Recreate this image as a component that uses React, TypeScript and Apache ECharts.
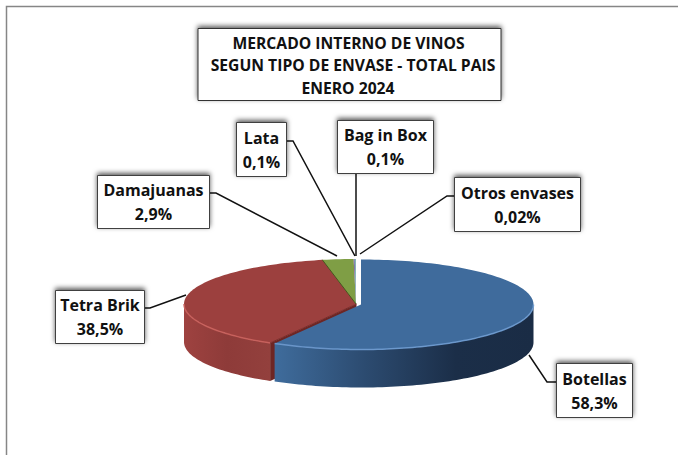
import React, { useEffect, useRef } from "react";
import * as echarts from "echarts";

const categories = ["Botellas", "Tetra Brik", "Damajuanas", "Lata", "Bag in Box", "Otros envases"];
const shares = [58.3, 38.5, 2.9, 0.1, 0.1, 0.02];
const shareLabels = ["58,3%", "38,5%", "2,9%", "0,1%", "0,1%", "0,02%"];
const titleLines = ["MERCADO INTERNO DE VINOS", "SEGUN TIPO DE ENVASE - TOTAL PAIS", "ENERO 2024"];

const FONT = "'Open Sans', sans-serif";
const CX = 356.5, CY = 304, RX = 172.5, RY = 45, DEPTH = 38;
const topColors = ["#3F6B9C", "#9C403E", "#7F9E45", "#7D60A0", "#4BACC6", "#F79646"];
const rimColors = ["#6E9BD0", "#C9605C", "#A0C060", "#9A80BC", "#70C8E0", "#FFB070"];
const edgeColors = ["#2C4D73", "#7A2C2A", "#46591F", "#574070", "#2F7A8E", "#B06A2C"];
const offsets = [[4.5, 0.5], [0, 0], [-0.5, 0], [-0.5, 0], [-0.5, 0], [-0.5, 0]];
const boxes = [
  { x: 556, y: 363, w: 76, h: 54, line: [[556, 382], [547, 382], [529, 355]] },
  { x: 55, y: 290, w: 89, h: 53, line: [[144, 308], [150, 308], [186, 295]] },
  { x: 97, y: 175, w: 112, h: 53, line: [[209, 193], [216, 193], [337, 256]] },
  { x: 236, y: 122, w: 50, h: 54, line: [[286, 141], [293, 141], [355, 256]] },
  { x: 337, y: 120, w: 96, h: 53, line: [[356, 173], [356, 256]] },
  { x: 454, y: 177, w: 126, h: 54, line: [[454, 196], [447, 196], [360, 254]] },
];

const total = shares.reduce((a, b) => a + b, 0);
const rad = (d: number) => (d * Math.PI) / 180;

function pt(a: number, dx: number, dy: number, down = 0): number[] {
  return [CX + dx + RX * Math.sin(rad(a)), CY + dy + down - RY * Math.cos(rad(a))];
}
function arc(a0: number, a1: number, dx: number, dy: number, down = 0): number[][] {
  const n = Math.max(2, Math.ceil(Math.abs(a1 - a0) / 1.5));
  const out: number[][] = [];
  for (let i = 0; i <= n; i++) out.push(pt(a0 + ((a1 - a0) * i) / n, dx, dy, down));
  return out;
}

function renderItem(params: any, api: any) {
  const i = params.dataIndex;
  let start = 0;
  for (let k = 0; k < i; k++) start += (shares[k] / total) * 360;
  const end = start + (api.value(0) / total) * 360;
  const [dx, dy] = offsets[i];
  const apex = [CX + dx, CY + dy];
  const children: any[] = [];
  const wallStart = Math.max(start, 90);
  const wallEnd = Math.min(end, 270);
  if (wallEnd > wallStart) {
    const wall = [...arc(wallStart, wallEnd, dx, dy), ...arc(wallEnd, wallStart, dx, dy, DEPTH)];
    const fill =
      i === 0
        ? new echarts.graphic.LinearGradient(1, 0, 0, 0, [
            { offset: 0, color: "#1A2C45" },
            { offset: 0.3, color: "#1B2E48" },
            { offset: 0.65, color: "#2C4B70" },
            { offset: 1, color: "#3F6C9C" },
          ])
        : new echarts.graphic.LinearGradient(0, 0, 1, 0, [
            { offset: 0, color: "#9E4240" },
            { offset: 0.5, color: "#8E3B39" },
            { offset: 1, color: "#93403D" },
          ]);
    children.push({ type: "polygon", z2: 2 + (i === 0 ? 10 : 0), shape: { points: wall }, style: { fill } });
  }
  if (i === 1) {
    const rim = pt(start, dx, dy);
    children.push({
      type: "polygon",
      z2: 3,
      shape: { points: [rim, apex, [apex[0], apex[1] + DEPTH], [rim[0], rim[1] + DEPTH]] },
      style: { fill: "#6E2624" },
    });
  }
  const top = [apex, ...arc(start, end, dx, dy)];
  children.push({ type: "polygon", z2: 13, shape: { points: top }, style: { fill: topColors[i] } });
  if (wallEnd > wallStart) {
    children.push({
      type: "polyline",
      z2: 14,
      shape: { points: arc(wallStart, wallEnd, dx, dy) },
      style: { stroke: rimColors[i], lineWidth: 1.5, fill: "none", opacity: 0.9 },
    });
  }
  if (i === 1 || i === 2) {
    const p = pt(start, dx, dy);
    children.push({
      type: "line",
      z2: 14,
      shape: { x1: apex[0], y1: apex[1], x2: p[0], y2: p[1] },
      style: { stroke: edgeColors[i], lineWidth: 1 },
    });
  }
  const b = boxes[i];
  children.push({
    type: "polyline",
    z2: 20,
    shape: { points: b.line },
    style: { stroke: "#111111", lineWidth: 1.5, fill: "none" },
  });
  children.push({
    type: "rect",
    z2: 21,
    shape: { x: b.x + 0.5, y: b.y + 0.5, width: b.w, height: b.h },
    style: {
      fill: "#FFFFFF",
      stroke: "#404040",
      lineWidth: 1,
      shadowBlur: 5,
      shadowColor: "rgba(0,0,0,0.65)",
      shadowOffsetX: 0,
      shadowOffsetY: -2,
    },
  });
  children.push({
    type: "text",
    z2: 22,
    style: {
      text: categories[i] + "\n" + shareLabels[i],
      x: b.x + b.w / 2 + 0.5,
      y: b.y + b.h / 2 + 0.5,
      align: "center",
      verticalAlign: "middle",
      fill: "#111111",
      font: `bold 16px ${FONT}`,
      lineHeight: 24,
    },
  });
  return { type: "group", children };
}

export default function App() {
  const ref = useRef<HTMLDivElement>(null);
  useEffect(() => {
    document.body.style.margin = "0";
    document.body.style.overflow = "hidden";
    const chart = echarts.init(ref.current!, undefined, { renderer: "svg" });
    chart.setOption({
      animation: false,
      backgroundColor: "#FFFFFF",
      graphic: [
        {
          type: "rect",
          silent: true,
          shape: { x: 6.5, y: 6.5, width: 720, height: 480 },
          style: { fill: "#FFFFFF", stroke: "#868686", lineWidth: 1.5 },
          z: -1,
        },
        {
          type: "rect",
          silent: true,
          shape: { x: 198, y: 28.5, width: 303, height: 72 },
          style: {
            fill: "#FFFFFF",
            stroke: "#303030",
            lineWidth: 1,
            shadowBlur: 5,
            shadowColor: "rgba(0,0,0,0.65)",
            shadowOffsetY: -2,
          },
          z: 5,
        },
        ...titleLines.map((t, k) => ({
          type: "text",
          silent: true,
          z: 6,
          x: [348.5, 353, 348][k],
          y: 42.5 + k * 22.5,
          style: {
            text: t,
            align: "center",
            verticalAlign: "middle",
            fill: "#111111",
            font: `bold 15.7px ${FONT}`,
          },
        })),
      ],
      series: [
        {
          type: "custom",
          coordinateSystem: "none",
          silent: true,
          renderItem,
          data: shares.map((v, i) => ({ name: categories[i], value: [v] })),
        },
      ],
    });
    return () => chart.dispose();
  }, []);
  return <div ref={ref} style={{ width: 678, height: 455 }} />;
}
